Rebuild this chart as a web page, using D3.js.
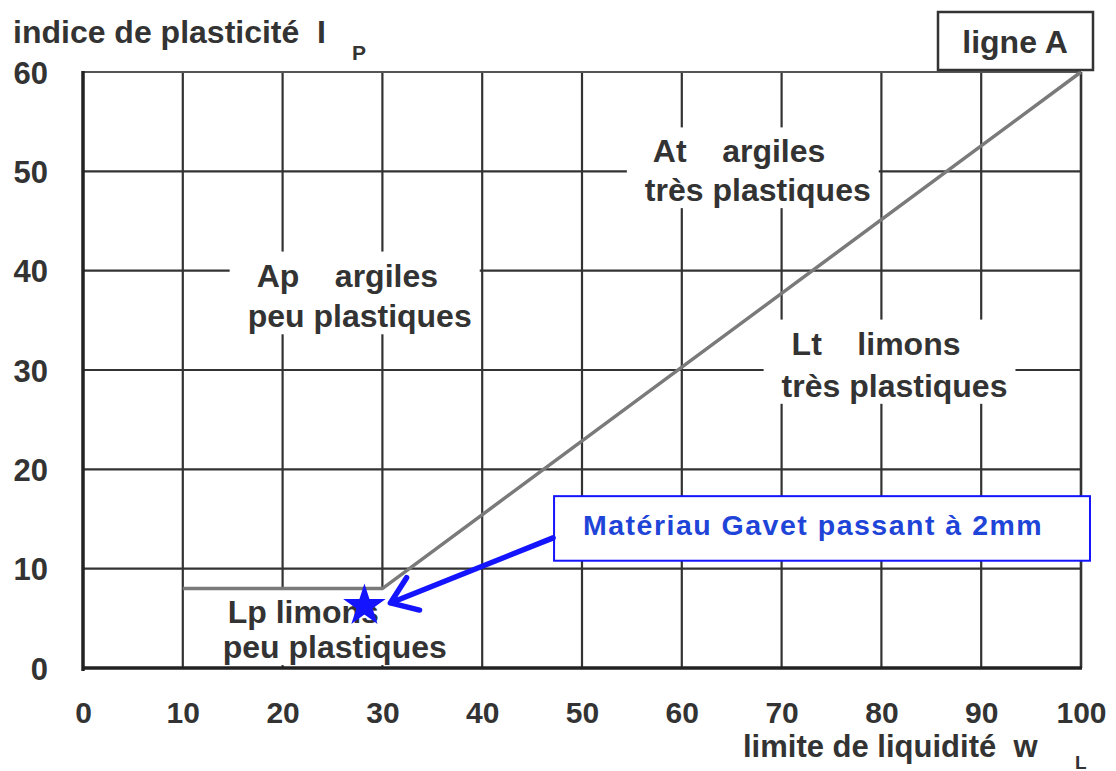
<!DOCTYPE html>
<html>
<head>
<meta charset="utf-8">
<script src="https://cdn.jsdelivr.net/npm/d3@7"></script>
<style>
  body { margin: 0; background: #fff; }
  svg text { font-family: "Liberation Sans", Arial, sans-serif; font-weight: bold; white-space: pre; }
</style>
</head>
<body>
<svg id="chart" width="1116" height="771"></svg>
<script>
// axis ticks
const xTicks = [0, 10, 20, 30, 40, 50, 60, 70, 80, 90, 100];
const yTicks = [0, 10, 20, 30, 40, 50, 60];

// ligne A (wL, Ip)
const lineA_wL = [10, 30, 100];
const lineA_Ip = [8, 8, 60];

// Gavet material (passant a 2mm)
const gavetWL = 28.2;
const gavetIp = 6.25;

// zone labels : two lines each, anchor in chart units
const zoneNames = ["At", "Ap", "Lt", "Lp"];
const zoneLine1 = ["At    argiles", "Ap    argiles", "Lt    limons", "Lp limons"];
const zoneLine2 = ["très plastiques", "peu plastiques", "très plastiques", "peu plastiques"];
const zoneX1 = [57.1, 17.4, 71.0, 14.5];
const zoneX2 = [56.3, 16.5, 70.0, 14.0];
const zoneY1 = [50.9, 38.4, 31.55, 4.5];
const zoneY2 = [47.0, 34.3, 27.3, 1.0];

const annotText = "Matériau Gavet passant à 2mm";

const svg = d3.select("#chart");
svg.append("rect").attr("width", 1116).attr("height", 771).attr("fill", "#fff");

const x = d3.scaleLinear().domain([0, 100]).range([83, 1081]);
const y = d3.scaleLinear().domain([0, 60]).range([668, 72]);

const ink = "#333";
const fs = 32;

// grid
const grid = svg.append("g");
grid.selectAll(".vgrid")
    .data(xTicks.filter(d => d > 0))
    .enter().append("line")
    .attr("x1", d => x(d)).attr("x2", d => x(d))
    .attr("y1", y(0)).attr("y2", y(60))
    .attr("stroke", ink)
    .attr("stroke-width", d => d === 100 ? 2.6 : 2.2);
grid.selectAll(".hgrid")
    .data(yTicks.filter(d => d > 0))
    .enter().append("line")
    .attr("x1", x(0)).attr("x2", x(100))
    .attr("y1", d => y(d)).attr("y2", d => y(d))
    .attr("stroke", d => d === 60 ? "#555" : ink)
    .attr("stroke-width", 2.2);

// white boxes + zone labels
const zones = svg.append("g");
zoneNames.forEach((name, i) => {
    const g = zones.append("g");
    const bg = g.append("rect").attr("fill", "#fff");
    const t1 = g.append("text")
        .attr("x", x(zoneX1[i])).attr("y", y(zoneY1[i]))
        .attr("font-size", fs).attr("fill", ink)
        .text(zoneLine1[i]);
    const t2 = g.append("text")
        .attr("x", x(zoneX2[i])).attr("y", y(zoneY2[i]))
        .attr("font-size", fs).attr("fill", ink)
        .text(zoneLine2[i]);
    const b1 = t1.node().getBBox(), b2 = t2.node().getBBox();
    const x0 = Math.min(b1.x, b2.x) - 18, x1 = Math.max(b1.x + b1.width, b2.x + b2.width) + 8;
    const y0 = b1.y - 6, y1 = b2.y + b2.height;
    bg.attr("x", x0).attr("y", y0).attr("width", x1 - x0).attr("height", y1 - y0);
});

// main axes (left and bottom)
svg.append("line")
    .attr("x1", x(0)).attr("x2", x(0)).attr("y1", y(60) - 1).attr("y2", y(0) + 3)
    .attr("stroke", "#222").attr("stroke-width", 3.5);
svg.append("line")
    .attr("x1", x(0) - 1).attr("x2", x(100) + 1).attr("y1", y(0)).attr("y2", y(0))
    .attr("stroke", "#222").attr("stroke-width", 3.5);

// ligne A
const lineA = d3.line().x(d => x(d[0])).y(d => y(d[1]));
svg.append("path")
    .attr("d", lineA(d3.zip(lineA_wL, lineA_Ip)))
    .attr("fill", "none")
    .attr("stroke", "#7a7a7a")
    .attr("stroke-width", 3.5)
    .attr("stroke-linejoin", "miter");

// tick labels through d3 axes
const xAxis = svg.append("g")
    .attr("transform", `translate(0, ${y(0) + 55})`)
    .call(d3.axisBottom(x).tickValues(xTicks).tickSize(0).tickPadding(0));
xAxis.select(".domain").remove();
xAxis.selectAll("text")
    .attr("dy", 0).attr("y", 0)
    .attr("font-size", 30).attr("fill", ink)
    .attr("font-family", null);

const yAxis = svg.append("g")
    .attr("transform", `translate(48, 0)`)
    .call(d3.axisLeft(y).tickValues(yTicks).tickSize(0).tickPadding(0));
yAxis.select(".domain").remove();
yAxis.selectAll("text")
    .attr("dy", 11).attr("x", 0)
    .attr("font-size", 31).attr("fill", ink)
    .attr("font-family", null);

// axis titles
svg.append("text")
    .attr("x", 13).attr("y", 43)
    .attr("font-size", fs).attr("fill", ink)
    .text("indice de plasticité  I");
svg.append("text")
    .attr("x", 352).attr("y", 60)
    .attr("font-size", 21).attr("fill", ink)
    .text("P");

svg.append("text")
    .attr("x", 743).attr("y", 757)
    .attr("font-size", 31).attr("fill", ink)
    .text("limite de liquidité  w");
svg.append("text")
    .attr("x", 1075).attr("y", 769)
    .attr("font-size", 19).attr("fill", ink)
    .text("L");

// ligne A box
const boxA = svg.append("g");
boxA.append("rect")
    .attr("x", 938).attr("y", 12).attr("width", 155).attr("height", 58)
    .attr("fill", "#fff").attr("stroke", "#333").attr("stroke-width", 2.5);
boxA.append("text")
    .attr("x", 1015).attr("y", 53)
    .attr("text-anchor", "middle")
    .attr("font-size", fs).attr("fill", ink)
    .text("ligne A");

// annotation box
const blue = "#1414ff";
svg.append("rect")
    .attr("x", x(47.2)).attr("y", y(17.3))
    .attr("width", x(100.9) - x(47.2)).attr("height", y(10.8) - y(17.3))
    .attr("fill", "#fff").attr("stroke", blue).attr("stroke-width", 2);
svg.append("text")
    .attr("x", x(50.1)).attr("y", y(13.4))
    .attr("font-family", "'Open Sans', sans-serif")
    .attr("font-weight", 700)
    .attr("font-size", 28.5)
    .attr("letter-spacing", 1.5)
    .attr("fill", "#1f44d8")
    .text(annotText);

// arrow from box to point
const tip = [x(30.8), y(6.55)];
const start = [x(47.1), y(13.1)];
const ang = Math.atan2(start[1] - tip[1], start[0] - tip[0]);
const wing = 30, spread = 0.62;
svg.append("path")
    .attr("d", `M${start[0]},${start[1]}L${tip[0]},${tip[1]}` +
        `M${tip[0] + wing * Math.cos(ang - spread)},${tip[1] + wing * Math.sin(ang - spread)}` +
        `L${tip[0]},${tip[1]}` +
        `L${tip[0] + wing * Math.cos(ang + spread)},${tip[1] + wing * Math.sin(ang + spread)}`)
    .attr("fill", "none").attr("stroke", blue)
    .attr("stroke-width", 5.5).attr("stroke-linecap", "round").attr("stroke-linejoin", "round");

// star marker
svg.append("path")
    .attr("d", d3.symbol().type(d3.symbolStar).size(560)())
    .attr("transform", `translate(${x(gavetWL)}, ${y(gavetIp)})`)
    .attr("fill", blue);
</script>
</body>
</html>
